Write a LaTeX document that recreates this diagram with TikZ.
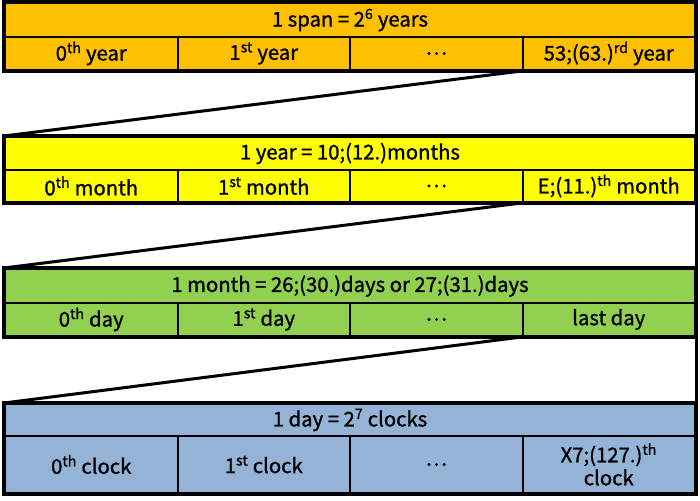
\documentclass[tikz,border=0pt]{standalone}
\usepackage{fontspec}
\setmainfont{Noto Sans CJK JP}
\newfontfamily\cellfont[FakeBold=1.2]{Noto Sans CJK JP}
\definecolor{spanfill}{HTML}{FFC000}
\definecolor{yearfill}{HTML}{FFFF00}
\definecolor{monthfill}{HTML}{92D050}
\definecolor{dayfill}{HTML}{95B3D7}
\newcommand{\sups}[1]{\textsuperscript{#1}}
\begin{document}
\begin{tikzpicture}[x=1pt,y=-1pt,
  cell/.style={draw=black,line width=2pt,inner sep=0pt,minimum width=172.5pt,
    font=\cellfont\fontsize{20.3}{23}\selectfont,align=center},
  head/.style={cell,minimum width=690pt},
  frame/.style={draw=black,line width=4pt},
  zoomline/.style={draw=black,line width=3pt}]
\useasboundingbox (0,0) rectangle (700,500);
% span of years
\node[head,fill=spanfill,minimum height=34pt] (h1) at (350,20) {1 span = 2\sups{6} years};
\node[cell,fill=spanfill,minimum height=33pt] (a1) at (91.25,53.5) {0\sups{th} year};
\node[cell,fill=spanfill,minimum height=33pt] (a2) at (263.75,53.5) {1\sups{st} year};
\node[cell,fill=spanfill,minimum height=33pt] (a3) at (436.25,53.5) {…};
\node[cell,fill=spanfill,minimum height=33pt] (a4) at (608.75,53.5) {53;(63.)\sups{rd} year};
% one year
\node[head,fill=yearfill,minimum height=33pt] (h2) at (350,153.5) {1 year = 10;(12.)months};
\node[cell,fill=yearfill,minimum height=32pt] (b1) at (91.25,186) {0\sups{th} month};
\node[cell,fill=yearfill,minimum height=32pt] (b2) at (263.75,186) {1\sups{st} month};
\node[cell,fill=yearfill,minimum height=32pt] (b3) at (436.25,186) {…};
\node[cell,fill=yearfill,minimum height=32pt] (b4) at (608.75,186) {E;(11.)\sups{th} month};
% one month
\node[head,fill=monthfill,minimum height=34pt] (h3) at (350,286) {1 month = 26;(30.)days or 27;(31.)days};
\node[cell,fill=monthfill,minimum height=33pt] (c1) at (91.25,319.5) {0\sups{th} day};
\node[cell,fill=monthfill,minimum height=33pt] (c2) at (263.75,319.5) {1\sups{st} day};
\node[cell,fill=monthfill,minimum height=33pt] (c3) at (436.25,319.5) {…};
\node[cell,fill=monthfill,minimum height=33pt] (c4) at (608.75,319.5) {last day};
% one day
\node[head,fill=dayfill,minimum height=32pt] (h4) at (350,420) {1 day = 2\sups{7} clocks};
\node[cell,fill=dayfill,minimum height=57pt] (d1) at (91.25,464.5) {0\sups{th} clock};
\node[cell,fill=dayfill,minimum height=57pt] (d2) at (263.75,464.5) {1\sups{st} clock};
\node[cell,fill=dayfill,minimum height=57pt] (d3) at (436.25,464.5) {…};
\node[cell,fill=dayfill,minimum height=57pt] (d4) at (608.75,464.5) {X7;(127.)\sups{th}\\clock};
% thick outer frames
\draw[frame] (h1.north west) rectangle (a4.south east);
\draw[frame] (h2.north west) rectangle (b4.south east);
\draw[frame] (h3.north west) rectangle (c4.south east);
\draw[frame] (h4.north west) rectangle (d4.south east);
% expansion lines from the last cell to the next level
\draw[zoomline] (a4.south west) -- (h2.north west);
\draw[zoomline] (a4.south east) -- (h2.north east);
\draw[zoomline] (b4.south west) -- (h3.north west);
\draw[zoomline] (b4.south east) -- (h3.north east);
\draw[zoomline] (c4.south west) -- (h4.north west);
\draw[zoomline] (c4.south east) -- (h4.north east);
\end{tikzpicture}
\end{document}
